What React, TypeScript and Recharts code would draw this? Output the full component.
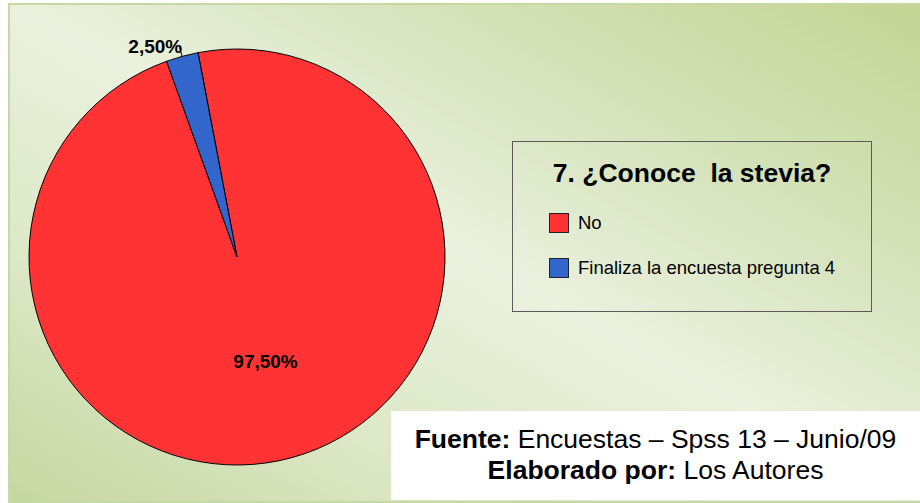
import { Cell, Legend, Pie, PieChart } from "recharts"

const categories = ["No", "Finaliza la encuesta pregunta 4"]
const values = [97.5, 2.5]
const valueLabels = ["97,50%", "2,50%"]
const colors = ["#FF3333", "#3366CC"]
const chartTitle = "7. ¿Conoce\u00a0 la stevia?"
const footerLines = [
  { bold: "Fuente:", text: " Encuestas – Spss 13 – Junio/09" },
  { bold: "Elaborado por:", text: " Los Autores" },
]

const data = categories.map((name, i) => ({ name, value: values[i] }))

const RADIAN = Math.PI / 180

const renderLabel = (props: any) => {
  const { cx, cy, midAngle, outerRadius, index } = props
  const cos = Math.cos(-midAngle * RADIAN)
  const sin = Math.sin(-midAngle * RADIAN)
  if (index === 0) {
    const r = outerRadius * 0.52
    return (
      <text
        x={cx + r * cos}
        y={cy + r * sin}
        textAnchor="middle"
        dominantBaseline="central"
        fontSize={19}
        fontWeight="bold"
        fill="#000"
      >
        {valueLabels[index]}
      </text>
    )
  }
  const x1 = cx + outerRadius * cos
  const y1 = cy + outerRadius * sin
  const x2 = cx + (outerRadius + 11) * cos
  const y2 = cy + (outerRadius + 11) * sin
  return (
    <g>
      <line x1={x1} y1={y1} x2={x2} y2={y2} stroke="#000" strokeWidth={1} />
      <text
        x={x2 + 3}
        y={y2 + 7}
        textAnchor="end"
        fontSize={19}
        fontWeight="bold"
        fill="#000"
      >
        {valueLabels[index]}
      </text>
    </g>
  )
}

const LegendBox = () => (
  <div
    style={{
      width: 360,
      height: 171,
      boxSizing: "border-box",
      border: "1.5px solid #5a5a5a",
      fontFamily: "Arial, 'Liberation Sans', sans-serif",
      position: "relative",
    }}
  >
    <div
      style={{
        position: "absolute",
        left: 0,
        right: 0,
        top: 16,
        textAlign: "center",
        fontSize: 26.5,
        fontWeight: "bold",
        color: "#000",
      }}
    >
      {chartTitle}
    </div>
    {categories.map((c, i) => (
      <div
        key={c}
        style={{
          position: "absolute",
          left: 36,
          top: 70 + i * 45,
          display: "flex",
          alignItems: "center",
          fontSize: 18.5,
          color: "#000",
        }}
      >
        <span
          style={{
            display: "inline-block",
            width: 20,
            height: 20,
            boxSizing: "border-box",
            background: colors[i],
            border: "1.5px solid #222",
            marginRight: 9,
          }}
        />
        {c}
      </div>
    ))}
  </div>
)

export default function App() {
  return (
    <div
      style={{
        position: "absolute",
        left: 0,
        top: 0,
        width: 920,
        height: 503,
        background: "#fff",
        fontFamily: "Arial, 'Liberation Sans', sans-serif",
      }}
    >
      <div
        style={{
          position: "absolute",
          left: 8,
          top: 3,
          width: 912,
          height: 500,
          boxSizing: "border-box",
          borderLeft: "2px solid #C6D9A2",
          borderTop: "2px solid #C6D9A2",
          borderBottom: "2px solid #C6D9A2",
          background:
            "linear-gradient(to bottom left, #C2D594 0%, #D6E3BC 28%, #EAF1DE 50%, #DCE8C6 75%, #C5D7A0 100%)",
        }}
      />
      <div style={{ position: "absolute", left: 0, top: 0 }}>
        <PieChart width={920} height={503} margin={{ top: 0, right: 0, bottom: 0, left: 0 }}>
          <Pie
            data={data}
            dataKey="value"
            nameKey="name"
            cx={237}
            cy={257}
            outerRadius={208}
            startAngle={100.8}
            endAngle={-259.2}
            stroke="#000"
            strokeWidth={1}
            label={renderLabel}
            labelLine={false}
            isAnimationActive={false}
          >
            {data.map((d, i) => (
              <Cell key={d.name} fill={colors[i]} />
            ))}
          </Pie>
          <Legend
            content={() => <LegendBox />}
            wrapperStyle={{ position: "absolute", left: 512, top: 141, width: 360, height: 171 }}
          />
        </PieChart>
      </div>
      <div
        style={{
          position: "absolute",
          left: 391,
          top: 411,
          width: 529,
          height: 89,
          background: "#fff",
          textAlign: "center",
          fontSize: 26.5,
          lineHeight: "31px",
          paddingTop: 13,
          boxSizing: "border-box",
          color: "#000",
        }}
      >
        {footerLines.map((l) => (
          <div key={l.bold}>
            <b>{l.bold}</b>
            {l.text}
          </div>
        ))}
      </div>
    </div>
  )
}
